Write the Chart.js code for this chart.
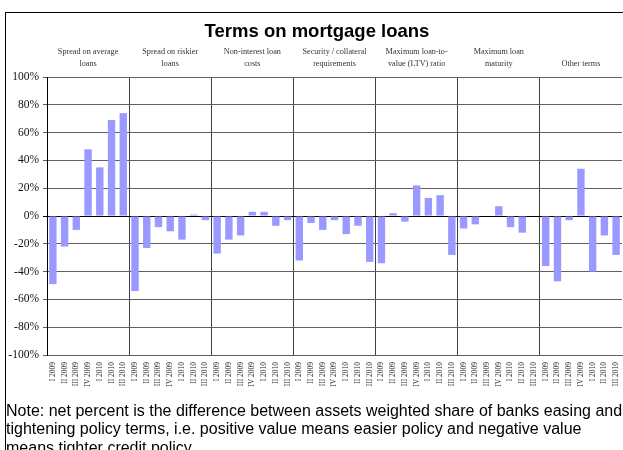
<!DOCTYPE html>
<html>
<head>
<meta charset="utf-8">
<script src="https://cdn.jsdelivr.net/npm/chart.js@4/dist/chart.umd.min.js"></script>
<style>
  html, body { margin: 0; padding: 0; background: #fff; }
  body { width: 623px; height: 450px; position: relative; overflow: hidden; }
  #frame { position: absolute; left: 5px; top: 12px; width: 700px; height: 600px; border: 1px solid #000; box-sizing: border-box; }
  #wrap { position: absolute; left: 0; top: 0; width: 623px; height: 450px; }
  #note { position: absolute; left: 6px; top: 402px; font-family: Arial, "Liberation Sans", sans-serif; font-size: 16px; line-height: 18.3px; color: #000; white-space: nowrap; }
</style>
</head>
<body>
<div id="frame"></div>
<div id="wrap"><canvas id="chart" width="623" height="450"></canvas></div>
<div id="note">Note: net percent is the difference between assets weighted share of banks easing and<br>tightening policy terms, i.e. positive value means easier policy and negative value<br>means tighter credit policy.</div>
<script>
// Survey quarters shown within every group
const quarters = ['I 2009', 'II 2009', 'III 2009', 'IV 2009', 'I 2010', 'II 2010', 'III 2010'];

// Chart heading
const chartTitle = 'Terms on mortgage loans';

// Group headings (one array entry per line)
const groupTitles = [
  ['Spread on average', 'loans'],
  ['Spread on riskier', 'loans'],
  ['Non-interest loan', 'costs'],
  ['Security / collateral', 'requirements'],
  ['Maximum loan-to-', 'value (LTV) ratio'],
  ['Maximum loan', 'maturity'],
  ['', 'Other terms']
];

// Net percent per term, by quarter
const spreadAverage = [-49, -22, -10, 48, 35, 69, 74];
const spreadRiskier = [-54, -23, -8, -11, -17, 1, -3];
const nonInterest   = [-27, -17, -14, 3, 3, -7, -3];
const collateral    = [-32, -5, -10, -3, -13, -7, -33];
const ltvRatio      = [-34, 2, -4, 22, 13, 15, -28];
const maturity      = [-9, -6, 0, 7, -8, -12, 0];
const otherTerms    = [-36, -47, -3, 34, -40, -14, -28];

// Y axis tick values
const yTicks = [-100, -80, -60, -40, -20, 0, 20, 40, 60, 80, 100];

const groups = [spreadAverage, spreadRiskier, nonInterest, collateral, ltvRatio, maturity, otherTerms];
const labels = [];
const values = [];
groups.forEach(g => { quarters.forEach(q => labels.push(q)); g.forEach(v => values.push(v)); });
const perGroup = quarters.length;

// Heading and per-group captions above the plot
const headingPlugin = {
  id: 'headings',
  afterDraw(chart) {
    const x = chart.scales.x;
    const ctx = chart.ctx;
    ctx.save();
    ctx.textAlign = 'center';
    ctx.textBaseline = 'middle';
    ctx.fillStyle = '#000';
    ctx.font = 'bold 18.5px Arial, "Liberation Sans", sans-serif';
    ctx.fillText(chartTitle, 317, 32);
    ctx.font = '8.2px "Liberation Serif", "Times New Roman", serif';
    ctx.fillStyle = '#333';
    groupTitles.forEach((lines, g) => {
      const cx = (x.getPixelForValue(g * perGroup) + x.getPixelForValue(g * perGroup + perGroup - 1)) / 2;
      lines.forEach((t, i) => { if (t) ctx.fillText(t, cx, 52 + i * 12); });
    });
    ctx.restore();
  }
};

new Chart(document.getElementById('chart'), {
  type: 'bar',
  data: {
    labels: labels,
    datasets: [{
      data: values,
      backgroundColor: '#9999FF',
      borderWidth: 0,
      barPercentage: 0.63,
      categoryPercentage: 1
    }]
  },
  options: {
    responsive: false,
    animation: false,
    layout: { padding: { left: 5, right: 1, top: 77, bottom: 55 } },
    plugins: {
      legend: { display: false },
      tooltip: { enabled: false },
      title: { display: false }
    },
    scales: {
      x: {
        type: 'category',
        offset: true,
        grid: {
          offset: true,
          drawTicks: false,
          lineWidth: 1,
          color: c => (c.index % perGroup === 0 ? '#404040' : 'rgba(0,0,0,0)')
        },
        border: { display: true, color: '#606060' },
        ticks: {
          autoSkip: false,
          minRotation: 90,
          maxRotation: 90,
          padding: 7,
          color: '#222',
          font: { family: '"Liberation Serif", "Times New Roman", serif', size: 7.5 }
        },
        afterFit: s => { s.height = 40; s.paddingLeft = 0; s.paddingRight = 0; }
      },
      y: {
        min: -100,
        max: 100,
        afterBuildTicks: s => { s.ticks = yTicks.map(v => ({ value: v })); },
        grid: {
          color: c => (c.tick && c.tick.value === 0 ? '#000' : '#606060'),
          lineWidth: 1,
          tickLength: 4
        },
        border: { display: true, color: '#000' },
        ticks: {
          padding: 4,
          color: '#111',
          font: { family: '"Liberation Serif", "Times New Roman", serif', size: 11.5 },
          callback: v => v + '%'
        },
        afterFit: s => { s.width = 42; s.paddingTop = 0; s.paddingBottom = 0; }
      }
    }
  },
  plugins: [headingPlugin]
});
</script>
</body>
</html>
